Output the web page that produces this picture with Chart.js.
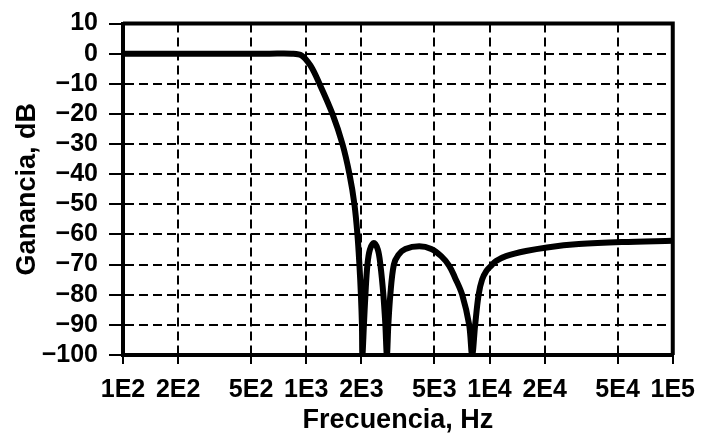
<!DOCTYPE html>
<html>
<head>
<meta charset="utf-8">
<script src="https://cdn.jsdelivr.net/npm/chart.js@4/dist/chart.umd.min.js"></script>
<style>
body { margin: 0; background: #fff; }
</style>
</head>
<body>
<canvas id="chart_1" width="709" height="440"></canvas>
<script>
// frequency (Hz) and gain (dB)
const freq = [100, 631, 832, 943, 1055, 1181, 1390, 1576, 1721, 1832, 1902, 1950, 1987, 2013, 2025,
    2064, 2103, 2157, 2225, 2339, 2459, 2538, 2635, 2702, 2754,
    2805, 2876, 3006, 3180, 3472, 4139, 4810, 5450, 6028, 6500, 7093, 7744, 8040,
    8350, 8720, 9110, 9640, 10200, 10860, 12300, 15800, 20600, 30700, 52700, 100000]
const gain = [0, 0, 0, -0.6, -4, -10, -20, -30, -40, -50, -60, -70, -80, -90, -100,
    -90, -80, -70, -65, -62.8, -65, -70, -80, -90, -100,
    -90, -80, -70, -66.8, -64.8, -63.9, -64.8, -67.2, -70.4, -74.5, -80, -90, -100,
    -90, -80, -75, -72, -70.4, -68.8, -67.2, -65.5, -64.3, -63.2, -62.5, -62.1]

const x_ticks = [100, 200, 500, 1000, 2000, 5000, 10000, 20000, 50000, 100000]
const x_labels = ["1E2", "2E2", "5E2", "1E3", "2E3", "5E3", "1E4", "2E4", "5E4", "1E5"]
const y_min = -100
const y_max = 10

Chart.defaults.color = "#000"
Chart.defaults.font.family = "'Liberation Sans', Arial, sans-serif"

const points = freq.map((f, i) => ({x: f, y: gain[i]}))

const frame = {
    id: "frame",
    afterDraw(chart){
        const {ctx, chartArea} = chart
        ctx.save()
        ctx.strokeStyle = "#000"
        ctx.lineWidth = 4
        ctx.beginPath()
        ctx.moveTo(chartArea.left, chartArea.top)
        ctx.lineTo(chartArea.right, chartArea.top)
        ctx.lineTo(chartArea.right, chartArea.bottom)
        ctx.stroke()
        ctx.restore()
    }
}

const ctx_1 = document.getElementById("chart_1").getContext("2d")
const chart_1 = new Chart(ctx_1, {
    type: "line",
    data: {
        datasets: [
            {
                data: points,
                borderColor: "#000",
                borderWidth: 6,
                pointRadius: 0,
                tension: 0.35,
                fill: false
            }
        ]
    },
    options: {
        responsive: false,
        animation: false,
        layout: {padding: {top: 13, right: 35, bottom: 0, left: 0}},
        plugins: {legend: {display: false}, tooltip: {enabled: false}},
        scales: {
            x: {
                type: "logarithmic",
                min: 100,
                max: 100000,
                afterBuildTicks: (scale) => {
                    scale.ticks = x_ticks.map(v => ({value: v}))
                },
                afterFit: (scale) => {
                    scale.height = 85
                },
                ticks: {
                    autoSkip: false,
                    maxRotation: 0,
                    padding: 14,
                    font: {size: 25, weight: "bold", lineHeight: 1},
                    callback: (v, i) => x_labels[i]
                },
                grid: {color: "#000", lineWidth: 2, tickLength: 9, tickWidth: 2},
                border: {display: true, color: "#000", width: 4, dash: [9, 5]},
                title: {
                    display: true,
                    text: "Frecuencia, Hz",
                    font: {size: 27, weight: "bold", lineHeight: 1.2},
                    padding: {top: 0, bottom: 3}
                }
            },
            y: {
                min: y_min,
                max: y_max,
                afterFit: (scale) => {
                    scale.width = 123
                },
                ticks: {
                    stepSize: 10,
                    padding: 11,
                    font: {size: 25, weight: "bold", lineHeight: 1},
                    callback: (v) => v < 0 ? "\u2212" + Math.abs(v) : String(v)
                },
                grid: {color: "#000", lineWidth: 2, tickLength: 14, tickWidth: 2},
                border: {display: true, color: "#000", width: 4, dash: [9, 5]},
                title: {
                    display: true,
                    text: "Ganancia, dB",
                    font: {size: 27, weight: "bold", lineHeight: 1.2},
                    padding: {top: 11, bottom: 0}
                }
            }
        }
    },
    plugins: [frame]
})
</script>
</body>
</html>
